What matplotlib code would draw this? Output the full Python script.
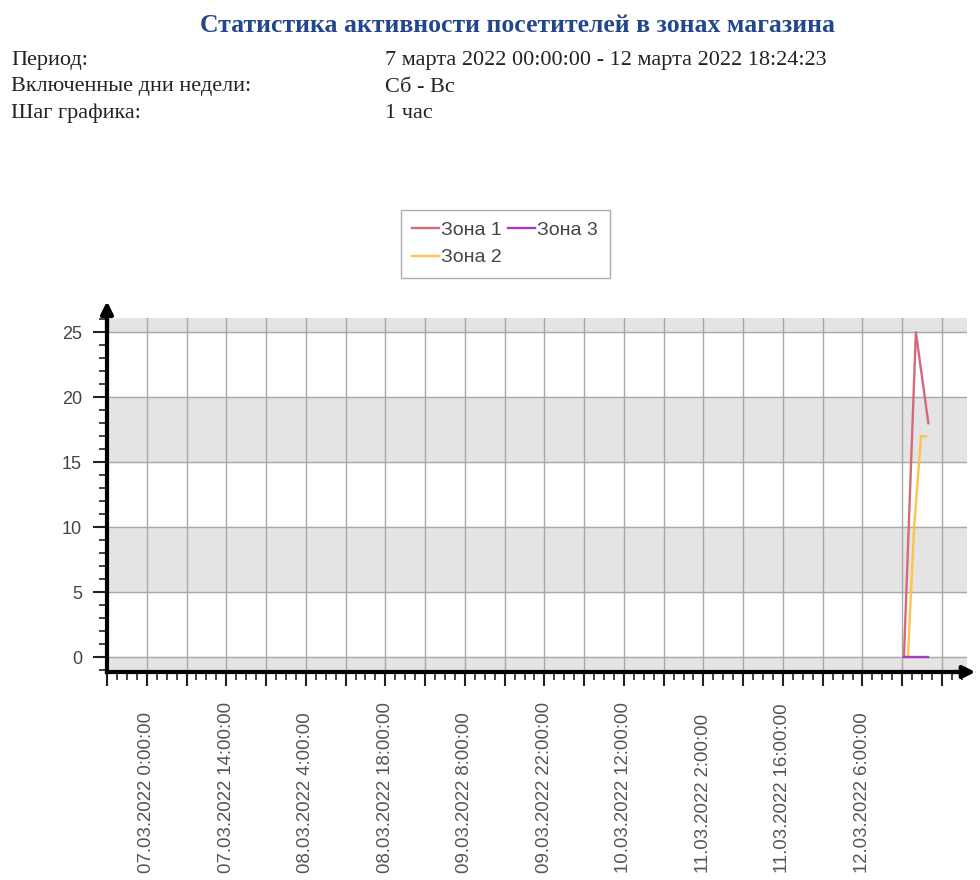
import datetime as dt
import matplotlib
matplotlib.use('Agg')
import matplotlib.pyplot as plt
from matplotlib.transforms import blended_transform_factory
from matplotlib.ticker import MultipleLocator, AutoMinorLocator, NullFormatter

# header texts
title = 'Статистика активности посетителей в зонах магазина'
info_keys = ['Период:', 'Включенные дни недели:', 'Шаг графика:']
info_vals = ['7 марта 2022 00:00:00 - 12 марта 2022 18:24:23', 'Сб - Вс', '1 час']

# data: hours since 07.03.2022 0:00
base = dt.datetime(2022, 3, 7)
zone1_hours = [133.3, 135.4, 137.6]
zone1_vals = [0, 25, 18]
zone2_hours = [134.0, 135.1, 136.3, 137.2]
zone2_vals = [0, 10, 17, 17]
zone3_hours = [133.3, 137.5]
zone3_vals = [0, 0]
names = ['Зона 1', 'Зона 2', 'Зона 3']
colors = ['#d46a78', '#ffc34d', '#a83cc8']

label_hours = list(range(0, 127, 14))

fig = plt.figure(figsize=(9.8, 8.8), dpi=100)
ax = fig.add_axes([107 / 980, 1 - 672 / 880, 860 / 980, 354 / 880])

# header
fig.text(517 / 980, 1 - 26 / 880, title, family='Liberation Serif', weight='bold',
         size=18.5, color='#24468c', ha='center', va='center')
for i, (k, v) in enumerate(zip(info_keys, info_vals)):
    y = 1 - (61 + 26 * i) / 880
    fig.text(11 / 980, y, k, family='Liberation Serif', size=16, color='#222', va='center')
    fig.text(385 / 980, y, v, family='Liberation Serif', size=16, color='#222', va='center')

# background bands
ax.axhspan(-5, 0, color='#e4e4e4', zorder=0)
ax.axhspan(5, 10, color='#e4e4e4', zorder=0)
ax.axhspan(15, 20, color='#e4e4e4', zorder=0)
ax.axhspan(25, 30, color='#e4e4e4', zorder=0)

ax.plot(zone1_hours, zone1_vals, color=colors[0], lw=1.7, label=names[0], zorder=3)
ax.plot(zone2_hours, zone2_vals, color=colors[1], lw=1.7, label=names[1], zorder=3)
ax.plot(zone3_hours, zone3_vals, color=colors[2], lw=1.7, label=names[2], zorder=3)

ax.set_xlim(-7, 144.4)
ax.set_ylim(-1.15, 26.1)

ax.xaxis.set_major_locator(MultipleLocator(7))
ax.xaxis.set_minor_locator(AutoMinorLocator(4))
ax.xaxis.set_major_formatter(NullFormatter())
ax.yaxis.set_major_locator(MultipleLocator(5))
ax.yaxis.set_minor_locator(AutoMinorLocator(5))
ax.grid(True, which='major', color='#a8a8a8', lw=1, zorder=1)
ax.set_axisbelow(True)

for s in ['top', 'right']:
    ax.spines[s].set_visible(False)
for s in ['left', 'bottom']:
    ax.spines[s].set_linewidth(3)
    ax.spines[s].set_color('black')

ax.tick_params(which='major', length=10, width=1.5, color='#222')
ax.tick_params(which='minor', length=6, width=1.2, color='#222')
ax.tick_params(axis='y', labelsize=13, labelcolor='#444', pad=8)
for lab in ax.get_yticklabels():
    lab.set_family('Liberation Sans')

# x labels, rotated and aligned at the bottom
tr = blended_transform_factory(ax.transData, fig.transFigure)
for h in label_hours:
    t = base + dt.timedelta(hours=h)
    txt = t.strftime('%d.%m.%Y ') + f'{t.hour}:00:00'
    ax.text(h, 7 / 880, txt, transform=tr, rotation=90, ha='center', va='bottom',
            size=13.4, color='#555', family='Liberation Sans')

# axis arrows
ax.annotate('', xy=(0, 1.055), xytext=(0, 0.95), xycoords='axes fraction',
            arrowprops=dict(arrowstyle='-|>', lw=3, color='black', mutation_scale=18))
ax.annotate('', xy=(1.013, 0), xytext=(0.98, 0), xycoords='axes fraction',
            arrowprops=dict(arrowstyle='-|>', lw=3, color='black', mutation_scale=18))

leg = ax.legend(ncol=2, loc='center', bbox_to_anchor=(505 / 980, 1 - 244 / 880),
                bbox_transform=fig.transFigure, prop={'family': 'Liberation Sans', 'size': 14},
                handlelength=1.4, handletextpad=0.1, columnspacing=0.3, fancybox=False,
                edgecolor='#999', borderpad=0.6, labelspacing=0.5)
for t in leg.get_texts():
    t.set_color('#444')

fig.savefig('out.png', dpi=100)
